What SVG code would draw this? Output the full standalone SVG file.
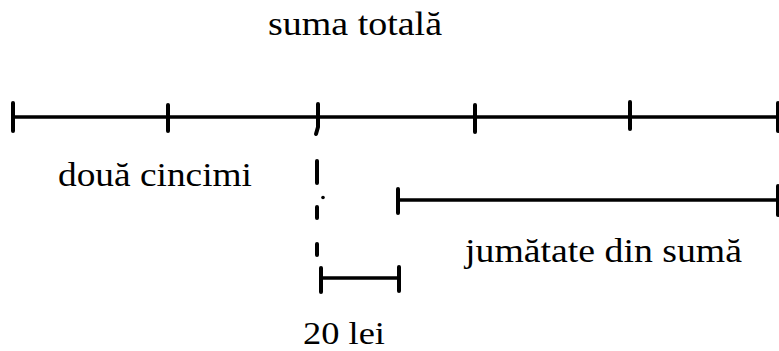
<svg xmlns="http://www.w3.org/2000/svg" width="779" height="351" viewBox="0 0 779 351">
<style>
.ln{stroke:#000;stroke-width:3.5;fill:none;stroke-linecap:round}
.tk{stroke:#000;stroke-width:4;fill:none;stroke-linecap:round}
.t{font-size:33px;fill:#000}
</style>
<rect width="779" height="351" fill="#fff"/>
<g id="label-total"><text class="t" font-family="Liberation Serif, serif" x="268" y="35" textLength="174" lengthAdjust="spacingAndGlyphs">suma totală</text></g>
<g id="main-line">
<line class="ln" x1="13" y1="117" x2="779" y2="117"/>
<line class="tk" x1="13" y1="103" x2="13" y2="131"/>
<line class="tk" x1="168" y1="105" x2="168" y2="131"/>
<path class="tk" d="M318 104 L318 127 L316 134"/>
<line class="tk" x1="475" y1="105" x2="475" y2="132"/>
<line class="tk" x1="630" y1="102" x2="630" y2="129"/>
<line class="tk" x1="778" y1="103" x2="778" y2="131"/>
</g>
<g id="label-two-fifths"><text class="t" font-family="Liberation Serif, serif" x="58" y="186" textLength="194" lengthAdjust="spacingAndGlyphs">două cincimi</text></g>
<g id="connectors">
<line class="tk" x1="317" y1="161" x2="317" y2="183"/>
<circle cx="323" cy="197.5" r="1.8" fill="#000"/>
<line class="tk" x1="317" y1="207" x2="317" y2="218"/>
<line class="tk" x1="317" y1="244" x2="317" y2="255"/>
</g>
<g id="half-segment">
<line class="ln" x1="398" y1="200" x2="778" y2="200"/>
<line class="tk" x1="398" y1="189" x2="398" y2="213"/>
<line class="tk" x1="778" y1="186" x2="778" y2="215"/>
</g>
<g id="label-half"><text class="t" font-family="Liberation Serif, serif" x="465" y="262" textLength="277" lengthAdjust="spacingAndGlyphs">jumătate din sumă</text></g>
<g id="small-segment">
<line class="ln" x1="321" y1="278" x2="399" y2="278"/>
<line class="tk" x1="321" y1="268" x2="321" y2="292"/>
<line class="tk" x1="399" y1="267" x2="399" y2="291"/>
</g>
<g id="label-20"><text class="t" font-family="Liberation Serif, serif" x="303" y="344" textLength="82" lengthAdjust="spacingAndGlyphs" style="font-size:32px">20 lei</text></g>
</svg>
